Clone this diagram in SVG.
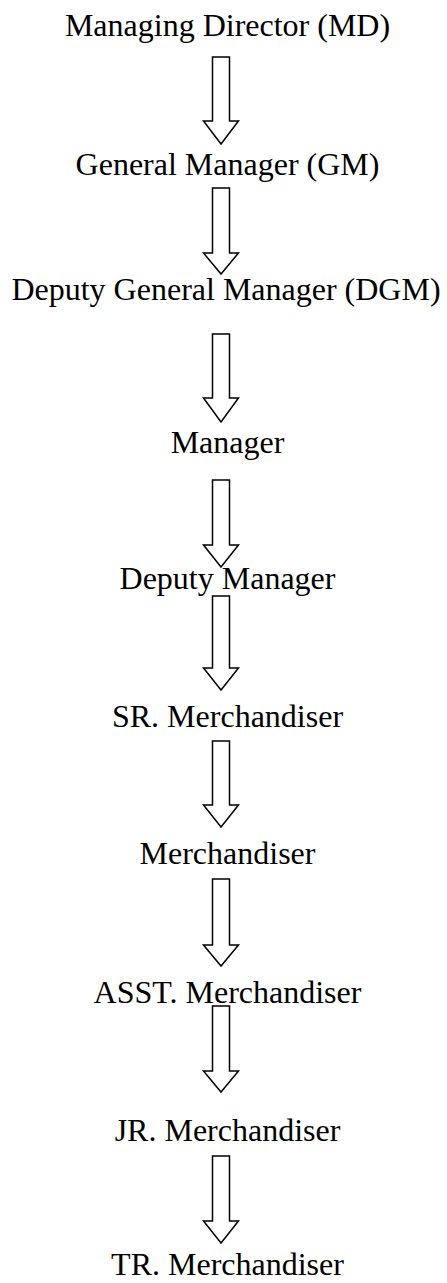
<svg xmlns="http://www.w3.org/2000/svg" width="447" height="1283" viewBox="0 0 447 1283">
<style>
.t{font-family:"Liberation Serif","Times New Roman",serif;font-size:32px;fill:#000;text-anchor:middle}
.a{fill:#fff;stroke:#000;stroke-width:1.5;stroke-linejoin:miter}
</style>
<rect width="447" height="1283" fill="#fff"/>
<g id="connectors">
<path class="a" d="M212.5,57 H229.5 V121 H238.5 L221,144 L203.5,121 H212.5 Z"/>
<path class="a" d="M212.5,188 H229.5 V253 H238.5 L221,274 L203.5,253 H212.5 Z"/>
<path class="a" d="M212.5,334 H229.5 V398 H238.5 L221,422 L203.5,398 H212.5 Z"/>
<path class="a" d="M212.5,480 H229.5 V545 H238.5 L221,567 L203.5,545 H212.5 Z"/>
<path class="a" d="M212.5,596 H229.5 V668 H238.5 L221,690 L203.5,668 H212.5 Z"/>
<path class="a" d="M212.5,741 H229.5 V805 H238.5 L221,827 L203.5,805 H212.5 Z"/>
<path class="a" d="M212.5,879 H229.5 V945 H238.5 L221,966 L203.5,945 H212.5 Z"/>
<path class="a" d="M212.5,1006 H229.5 V1071 H238.5 L221,1092 L203.5,1071 H212.5 Z"/>
<path class="a" d="M212.5,1156 H229.5 V1221 H238.5 L221,1243 L203.5,1221 H212.5 Z"/>
</g>
<g id="md"><text class="t" x="227.5" y="36">Managing Director (MD)</text></g>
<g id="gm"><text class="t" x="227.5" y="175">General Manager (GM)</text></g>
<g id="dgm"><text class="t" x="226" y="300">Deputy General Manager (DGM)</text></g>
<g id="manager"><text class="t" x="227.5" y="453">Manager</text></g>
<g id="deputy-manager"><text class="t" x="227.5" y="589">Deputy Manager</text></g>
<g id="sr-merch"><text class="t" x="227.5" y="727">SR. Merchandiser</text></g>
<g id="merch"><text class="t" x="227.5" y="864">Merchandiser</text></g>
<g id="asst-merch"><text class="t" x="227.5" y="1003">ASST. Merchandiser</text></g>
<g id="jr-merch"><text class="t" x="227.5" y="1141">JR. Merchandiser</text></g>
<g id="tr-merch"><text class="t" x="227.5" y="1275">TR. Merchandiser</text></g>
</svg>
